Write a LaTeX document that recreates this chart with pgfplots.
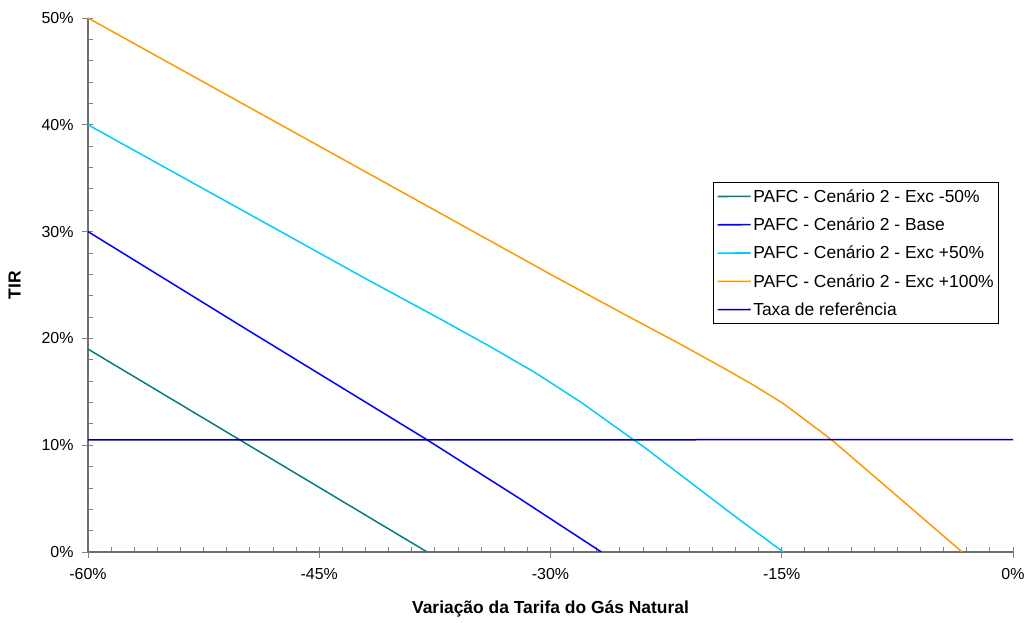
\documentclass[border=0pt]{standalone}
\usepackage{fontspec}
\setmainfont{Liberation Sans}
\usepackage{pgfplots}
\pgfplotsset{compat=1.18}
\definecolor{cTeal}{RGB}{0,128,128}
\definecolor{cBlue}{RGB}{0,0,255}
\definecolor{cCyan}{RGB}{0,204,255}
\definecolor{cOrange}{RGB}{255,153,0}
\definecolor{cNavy}{RGB}{0,0,140}
\definecolor{cAxis}{RGB}{110,110,110}
\begin{document}
\begin{tikzpicture}
\begin{axis}[
  scale only axis,
  width=925bp, height=534bp,
  xmin=-60, xmax=0, ymin=0, ymax=50,
  axis x line*=bottom, axis y line*=left,
  axis line style={draw=cAxis, line width=1.2bp, -},
  xtick={-60,-45,-30,-15,0},
  ytick={0,10,20,30,40,50},
  minor x tick num=9,
  minor y tick num=4,
  tick align=inside,
  major tick length=5bp, minor tick length=5bp,
  tick style={line width=0.8bp},
  extra x ticks={-60,-45,-30,-15,0},
  extra x tick labels={},
  extra y ticks={0,10,20,30,40,50},
  extra y tick labels={},
  extra tick style={tick align=outside, major tick length=6bp, grid=none},
  /pgf/number format/assume math mode=true,
  xticklabel={\pgfmathprintnumber{\tick}\%},
  yticklabel={\pgfmathprintnumber{\tick}\%},
  ticklabel style={font=\fontsize{16}{19}\selectfont},
  xticklabel style={yshift=-13bp},
  yticklabel style={xshift=-11bp},
  xlabel={\textbf{Variação da Tarifa do Gás Natural}},
  ylabel={\textbf{TIR}},
  label style={font=\fontsize{17.5}{20}\selectfont},
  xlabel style={yshift=-8bp},
  ylabel style={yshift=8bp},
  legend style={at={(0.676,0.693)}, anchor=north west, draw=black, line width=0.8bp,
    font=\fontsize{17.5}{20}\selectfont, inner sep=3bp, row sep=10bp,
    inner ysep=5bp, legend cell align=left},
  legend image code/.code={\draw[#1, line width=1.6bp] (0bp,0bp) -- (33bp,0.15bp);},
]
\addplot[draw=cTeal, line width=1.5bp] coordinates {(-60,19) (-38.0,0)};
\addlegendentry{PAFC - Cenário 2 - Exc -50\%}
\addplot[draw=cBlue, line width=1.5bp] coordinates {(-60,30) (-50,21.1) (-38,10.5) (-32,5.0) (-26.7,0)};
\addlegendentry{PAFC - Cenário 2 - Base}
\addplot[draw=cCyan, line width=1.5bp] coordinates {(-60,40) (-54,35.2) (-48,30.4) (-42,25.6) (-37,21.7) (-34,19.3) (-31,16.8) (-28,14.0) (-25,10.9) (-24,9.9) (-21,6.6) (-18,3.3) (-14.9,0)};
\addlegendentry{PAFC - Cenário 2 - Exc +50\%}
\addplot[draw=cOrange, line width=1.5bp] coordinates {(-60,50) (-54,45.2) (-48,40.4) (-42,35.6) (-36,30.8) (-30,26.0) (-25.4,22.4) (-21.5,19.4) (-18.5,17.0) (-16.8,15.6) (-14.9,13.9) (-12.4,11.2) (-11.6,10.3) (-3.3,0)};
\addlegendentry{PAFC - Cenário 2 - Exc +100\%}
\addplot[draw=cNavy, line width=1.5bp] coordinates {(-60,10.5) (0,10.515)};
\addlegendentry{Taxa de referência}
\end{axis}
\path ([yshift=18bp]current axis.north);
\path ([yshift=-71bp]current axis.south);
\path ([xshift=-88bp]current axis.south west);
\path ([xshift=16bp]current axis.south east);
\end{tikzpicture}
\end{document}
